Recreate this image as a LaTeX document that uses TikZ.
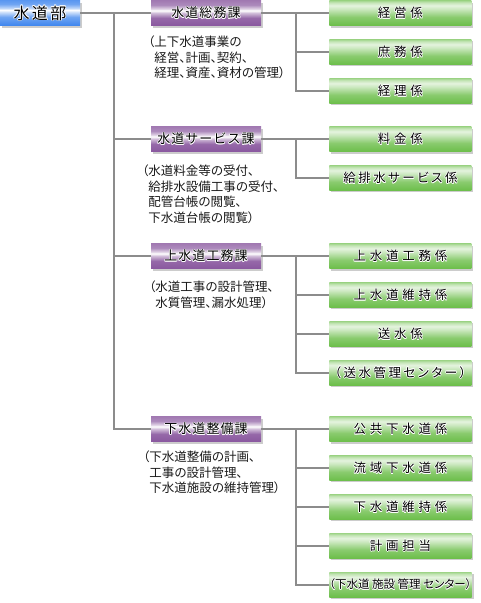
\documentclass[tikz,border=0pt]{standalone}
\usepackage{fontspec}
\setmainfont{Noto Sans CJK JP}
\newfontfamily\bufont[LetterSpace=15]{Noto Sans CJK JP}
\newfontfamily\kafont[LetterSpace=8]{Noto Sans CJK JP}
\newfontfamily\kkfont[LetterSpace=30]{Noto Sans CJK JP}
\newfontfamily\kkmid[LetterSpace=20, RawFeature=+palt]{Noto Sans CJK JP}
\newfontfamily\kktight[RawFeature=+palt]{Noto Sans CJK JP}
\newfontfamily\notefont[RawFeature=+palt]{Noto Sans CJK JP}
\usetikzlibrary{positioning, shadows}
\definecolor{mblue}{HTML}{3F86EE}
\definecolor{mpurp}{HTML}{8A589F}
\definecolor{mgreen}{HTML}{6CBE4A}
\definecolor{mline}{HTML}{8C8C8C}
\pgfdeclareverticalshading{bushade}{100bp}{color(0bp)=(mblue); color(25bp)=(mblue); color(42bp)=(mblue!75!white); color(52bp)=(mblue!25!white); color(56bp)=(white); color(60bp)=(mblue!35!white); color(68bp)=(mblue!75!white); color(75bp)=(mblue!85!white); color(100bp)=(mblue!85!white)}
\pgfdeclareverticalshading{kashade}{100bp}{color(0bp)=(mpurp); color(25bp)=(mpurp); color(40bp)=(mpurp!90!white); color(50bp)=(mpurp!40!white); color(55bp)=(white); color(58bp)=(mpurp!25!white); color(66bp)=(mpurp!70!white); color(75bp)=(mpurp!80!white); color(100bp)=(mpurp!80!white)}
\pgfdeclareverticalshading{kkshade}{100bp}{color(0bp)=(mgreen); color(25bp)=(mgreen); color(42bp)=(mgreen!80!white); color(58bp)=(mgreen!35!white); color(65bp)=(mgreen!18!white); color(71bp)=(mgreen!40!white); color(75bp)=(mgreen!65!white); color(100bp)=(mgreen!65!white)}
\newcommand\halo[1]{\leavevmode\rlap{\color{white}\hspace{.6pt}#1}\rlap{\color{white}\hspace{-.6pt}#1}\rlap{\color{white}\raisebox{.6pt}{#1}}\rlap{\color{white}\raisebox{-.6pt}{#1}}\rlap{\color{white}\hspace{.5pt}\raisebox{.5pt}{#1}}\rlap{\color{white}\hspace{-.5pt}\raisebox{-.5pt}{#1}}\rlap{\color{white}\hspace{.5pt}\raisebox{-.5pt}{#1}}\rlap{\color{white}\hspace{-.5pt}\raisebox{.5pt}{#1}}#1}
\tikzstyle{boxshadow} = [drop shadow={shadow xshift=2pt, shadow yshift=-2pt, opacity=.4}]
\tikzstyle{bureau} = [rectangle, minimum width=80pt, minimum height=25pt, inner sep=0pt, shade, shading=bushade, boxshadow, text=black, font=\bufont\fontsize{16pt}{18pt}\selectfont]
\tikzstyle{section} = [rectangle, minimum width=110pt, minimum height=25pt, inner sep=0pt, shade, shading=kashade, boxshadow, text=black, font=\kafont\fontsize{13pt}{15pt}\selectfont]
\tikzstyle{team} = [rectangle, minimum width=142pt, minimum height=25pt, inner sep=0pt, shade, shading=kkshade, boxshadow, text=black, font=\kkfont\fontsize{12.5pt}{15pt}\selectfont]
\tikzstyle{midteam} = [team, font=\kkmid\fontsize{12.5pt}{15pt}\selectfont]
\tikzstyle{tightteam} = [team, font=\kktight\fontsize{11.5pt}{15pt}\selectfont]
\tikzstyle{note} = [anchor=north west, align=left, inner sep=0pt, text=black!90, font=\notefont\fontsize{12.5pt}{15.5pt}\selectfont]
\tikzstyle{wire} = [mline, line width=1.8pt]

\begin{document}
\begin{tikzpicture}[x=1pt, y=-1pt, node distance=13.5pt]
  \useasboundingbox (0,0) rectangle (481,603);
  \node (bu) [bureau] at (40,13) {\halo{水道部}};
  % sections
  \node (k1) [section] at (206,13) {\halo{水道総務課}};
  \node (k2) [section] at (206,139) {\halo{水道サービス課}};
  \node (k3) [section] at (206,256) {\halo{上水道工務課}};
  \node (k4) [section] at (206,429) {\halo{下水道整備課}};
  \node (n1) [note] at (148,36) {（上下水道事業の\\\hphantom{（}経営、計画、契約、\\\hphantom{（}経理、資産、資材の管理）};
  \node (n2) [note] at (142,165) {（水道料金等の受付、\\\hphantom{（}給排水設備工事の受付、\\\hphantom{（}配管台帳の閲覧、\\\hphantom{（}下水道台帳の閲覧）};
  \node (n3) [note] at (149,281) {（水道工事の設計管理、\\\hphantom{（}水質管理、漏水処理）};
  \node (n4) [note] at (143,451) {（下水道整備の計画、\\\hphantom{（}工事の設計管理、\\\hphantom{（}下水道施設の維持管理）};
  % teams
  \node (g11) [team, right=68pt of k1] {\halo{経営係}};
  \node (g12) [team, below= of g11] {\halo{庶務係}};
  \node (g13) [team, below= of g12] {\halo{経理係}};
  \node (g21) [team, right=68pt of k2] {\halo{料金係}};
  \node (g22) [midteam, below= of g21] {\halo{給排水サービス係}};
  \node (g31) [team, right=68pt of k3] {\halo{上水道工務係}};
  \node (g32) [team, below= of g31] {\halo{上水道維持係}};
  \node (g33) [team, below= of g32] {\halo{送水係}};
  \node (g34) [midteam, below= of g33] {\halo{（送水管理センター）}};
  \node (g41) [team, right=68pt of k4] {\halo{公共下水道係}};
  \node (g42) [team, below= of g41] {\halo{流域下水道係}};
  \node (g43) [team, below= of g42] {\halo{下水道維持係}};
  \node (g44) [team, below= of g43] {\halo{計画担当}};
  \node (g45) [tightteam, below= of g44] {\halo{（下水道 施設 管理 センター）}};
  % wires
  \coordinate (tr) at (114,13);
  \coordinate (b1) at (296,13);
  \coordinate (b2) at (296,139);
  \coordinate (b3) at (296,256);
  \coordinate (b4) at (296,429);
  \draw [wire] (bu.east) -- (k1.west);
  \draw [wire] (tr) |- (k2.west);
  \draw [wire] (tr) |- (k3.west);
  \draw [wire] (tr) |- (k4.west);
  \draw [wire] (k1.east) -- (g11.west);
  \draw [wire] (b1) |- (g12.west);
  \draw [wire] (b1) |- (g13.west);
  \draw [wire] (k2.east) -- (g21.west);
  \draw [wire] (b2) |- (g22.west);
  \draw [wire] (k3.east) -- (g31.west);
  \draw [wire] (b3) |- (g32.west);
  \draw [wire] (b3) |- (g33.west);
  \draw [wire] (b3) |- (g34.west);
  \draw [wire] (k4.east) -- (g41.west);
  \draw [wire] (b4) |- (g42.west);
  \draw [wire] (b4) |- (g43.west);
  \draw [wire] (b4) |- (g44.west);
  \draw [wire] (b4) |- (g45.west);
\end{tikzpicture}
\end{document}
